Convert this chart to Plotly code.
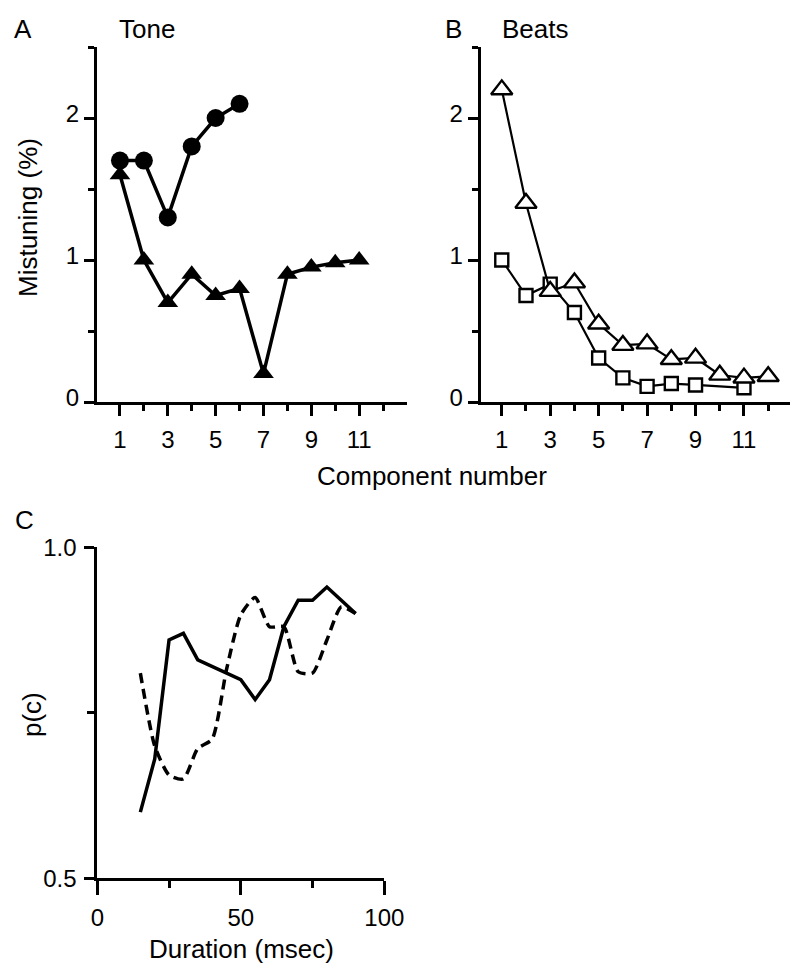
import plotly.graph_objects as go

# ---------------- data ----------------
# Panel A (Tone)
tone_circle_x = [1, 2, 3, 4, 5, 6]
tone_circle_y = [1.70, 1.70, 1.30, 1.80, 2.00, 2.10]
tone_tri_x = [1, 2, 3, 4, 5, 6, 7, 8, 9, 10, 11]
tone_tri_y = [1.60, 1.00, 0.70, 0.90, 0.75, 0.80, 0.20, 0.90, 0.95, 0.98, 1.00]

# Panel B (Beats)
beats_tri_x = [1, 2, 3, 4, 5, 6, 7, 8, 9, 10, 11, 12]
beats_tri_y = [2.20, 1.40, 0.78, 0.84, 0.55, 0.40, 0.41, 0.30, 0.31, 0.19, 0.17, 0.18]
beats_sq_x = [1, 2, 3, 4, 5, 6, 7, 8, 9, 11]
beats_sq_y = [1.00, 0.75, 0.83, 0.63, 0.31, 0.17, 0.11, 0.13, 0.12, 0.10]

# Panel C (duration)
dur_x = [15, 20, 25, 30, 35, 40, 45, 50, 55, 60, 65, 70, 75, 80, 85, 90]
pc_solid = [0.60, 0.68, 0.86, 0.87, 0.83, 0.82, 0.81, 0.80, 0.77, 0.80, 0.88, 0.92, 0.92, 0.94, 0.92, 0.90]
pc_dashed = [0.81, 0.70, 0.656, 0.65, 0.696, 0.71, 0.815, 0.898, 0.924, 0.88, 0.88, 0.812, 0.81, 0.86, 0.91, 0.90]

# tick labels
comp_major = [1, 3, 5, 7, 9, 11]
comp_minor = [2, 4, 6, 8, 10, 12]
mist_major = [0, 1, 2]
mist_minor = [0.5, 1.5, 2.5]
dur_major = [0, 50, 100]
dur_minor = [25, 75]
pc_major = [0.5, 1.0]
pc_major_text = ["0.5", "1.0"]
pc_minor = [0.75]

W, H = 800, 977
OFF = 8  # page body offset of the figure
FONT = "Liberation Sans, Arial, Helvetica, sans-serif"


def px(x):
    return (x - OFF) / W


def py(y):
    return 1 - (y - OFF) / H


fig = go.Figure()

# Panel A
fig.add_trace(go.Scatter(x=tone_tri_x, y=tone_tri_y, mode="lines+markers",
                         line=dict(color="black", width=3.5),
                         marker=dict(symbol="triangle-up", size=18, color="black"),
                         xaxis="x", yaxis="y", showlegend=False))
fig.add_trace(go.Scatter(x=tone_circle_x, y=tone_circle_y, mode="lines+markers",
                         line=dict(color="black", width=3.5),
                         marker=dict(symbol="circle", size=18, color="black"),
                         xaxis="x", yaxis="y", showlegend=False))

# Panel B
fig.add_trace(go.Scatter(x=beats_sq_x, y=beats_sq_y, mode="lines+markers",
                         line=dict(color="black", width=2.2),
                         marker=dict(symbol="square", size=13, color="white",
                                     line=dict(color="black", width=2.4)),
                         xaxis="x2", yaxis="y2", showlegend=False))
fig.add_trace(go.Scatter(x=beats_tri_x, y=beats_tri_y, mode="lines+markers",
                         line=dict(color="black", width=2.2),
                         marker=dict(symbol="triangle-up", size=18.5, color="white",
                                     line=dict(color="black", width=2.4)),
                         xaxis="x2", yaxis="y2", showlegend=False))

# Panel C
fig.add_trace(go.Scatter(x=dur_x, y=pc_dashed, mode="lines",
                         line=dict(color="black", width=3.5, dash="10px,6px",
                                   shape="spline", smoothing=0.6),
                         xaxis="x3", yaxis="y3", showlegend=False))
fig.add_trace(go.Scatter(x=dur_x, y=pc_solid, mode="lines",
                         line=dict(color="black", width=3.5),
                         xaxis="x3", yaxis="y3", showlegend=False))

axis_common = dict(showline=True, linecolor="black", linewidth=3, ticks="outside",
                   tickcolor="black", tickwidth=3, showgrid=False, zeroline=False,
                   automargin=False,
                   tickfont=dict(family=FONT, size=24, color="black"), fixedrange=True)

yA_dom = [py(402), py(47)]

fig.update_layout(
    width=W, height=H,
    margin=dict(l=0, r=0, t=0, b=0, pad=0, autoexpand=False),
    paper_bgcolor="white", plot_bgcolor="white",
    font=dict(family=FONT, color="black"),
    xaxis=dict(axis_common, domain=[px(97), px(407)], range=[0.04, 13.0],
               tickmode="array", tickvals=comp_major, ticklen=11, ticklabelstandoff=3,
               minor=dict(tickmode="array", tickvals=comp_minor, ticks="outside",
                          ticklen=6, tickwidth=3, tickcolor="black"),
               anchor="y"),
    yaxis=dict(axis_common, domain=yA_dom, range=[0, 2.5],
               tickmode="array", tickvals=mist_major, ticklen=10, ticklabelstandoff=0,
               ticklabelshift=-4,
               minor=dict(tickmode="array", tickvals=mist_minor, ticks="outside",
                          ticklen=6, tickwidth=3, tickcolor="black"),
               anchor="x"),
    xaxis2=dict(axis_common, domain=[px(480.7), px(790)], range=[0.13, 12.9],
                tickmode="array", tickvals=comp_major, ticklen=11, ticklabelstandoff=3,
                minor=dict(tickmode="array", tickvals=comp_minor, ticks="outside",
                           ticklen=6, tickwidth=3, tickcolor="black"),
                anchor="y2"),
    yaxis2=dict(axis_common, domain=yA_dom, range=[0, 2.5],
                tickmode="array", tickvals=mist_major, ticklen=10, ticklabelstandoff=0,
                ticklabelshift=-4,
                minor=dict(tickmode="array", tickvals=mist_minor, ticks="outside",
                           ticklen=6, tickwidth=3, tickcolor="black"),
                anchor="x2"),
    xaxis3=dict(axis_common, domain=[px(97.3), px(384.3)], range=[0, 100],
                tickmode="array", tickvals=dur_major, ticklen=14, ticklabelstandoff=2,
                minor=dict(tickmode="array", tickvals=dur_minor, ticks="outside",
                           ticklen=7, tickwidth=3, tickcolor="black"),
                anchor="y3"),
    yaxis3=dict(axis_common, domain=[py(878.3), py(547.3)], range=[0.5, 1.0],
                tickmode="array", tickvals=pc_major, ticktext=pc_major_text, ticklen=10,
                ticklabelstandoff=3,
                minor=dict(tickmode="array", tickvals=pc_minor, ticks="outside",
                           ticklen=7, tickwidth=3, tickcolor="black"),
                anchor="x3"),
)

ann_font = dict(family=FONT, size=26, color="black")
annotations = [
    dict(text="A", x=px(12), y=py(28.5), xanchor="left", yanchor="middle"),
    dict(text="Tone", x=px(146.7), y=py(28.5), xanchor="center", yanchor="middle"),
    dict(text="B", x=px(443), y=py(28.5), xanchor="left", yanchor="middle"),
    dict(text="Beats", x=px(535.7), y=py(28.5), xanchor="center", yanchor="middle"),
    dict(text="C", x=px(13), y=py(520), xanchor="left", yanchor="middle"),
    dict(text="Component number", x=px(431.5), y=py(476), xanchor="center", yanchor="middle"),
    dict(text="Duration (msec)", x=px(241.5), y=py(949), xanchor="center", yanchor="middle"),
    dict(text="Mistuning (%)", x=px(28), y=py(218), xanchor="center", yanchor="middle",
         textangle=-90),
    dict(text="p(c)", x=px(32), y=py(715), xanchor="center", yanchor="middle",
         textangle=-90),
]
for a in annotations:
    a.update(xref="paper", yref="paper", showarrow=False, font=ann_font)
fig.update_layout(annotations=annotations)

fig.write_html("out.html")
